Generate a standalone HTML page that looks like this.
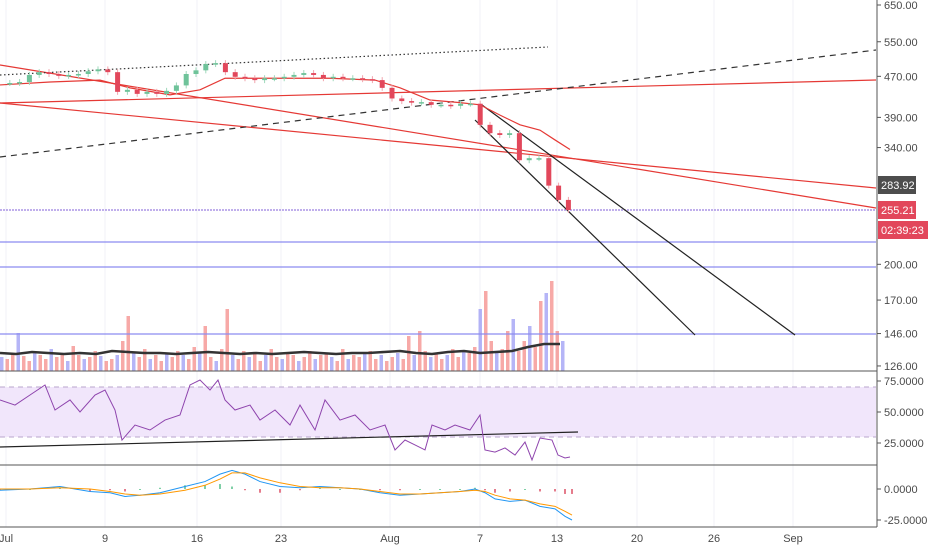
<!DOCTYPE html>
<html><head><meta charset="utf-8"><style>
body{margin:0;background:#fff;font-family:"Liberation Sans",sans-serif}
svg text{font-family:"Liberation Sans",sans-serif}
</style></head><body>
<svg id="c" width="932" height="550" xmlns="http://www.w3.org/2000/svg">
<rect width="932" height="550" fill="#fff"/>
<g id="grid"></g>
<rect x="0" y="387" width="876" height="50" fill="#f1e6fb"/>
<line x1="0" y1="387" x2="876" y2="387" stroke="#b9a6cc" stroke-dasharray="5,4"/>
<line x1="0" y1="437" x2="876" y2="437" stroke="#b9a6cc" stroke-dasharray="5,4"/>
<g id="vol"></g><g id="lines"></g><g id="candles"></g><g id="ind"></g>
<line x1="0" y1="371" x2="877" y2="371" stroke="#555"/>
<line x1="0" y1="465" x2="877" y2="465" stroke="#555"/>
<line x1="877" y1="0" x2="877" y2="527" stroke="#555"/>
<line x1="0" y1="527" x2="877" y2="527" stroke="#555"/>
<g id="axis" font-size="11" fill="#4a4a4a"></g>
<rect x="878" y="176" width="38" height="18" fill="#4d4d4d"/>
<text x="881" y="189" font-size="11" fill="#fff">283.92</text>
<rect x="878" y="201" width="38" height="18" fill="#e2475b"/>
<text x="881" y="214" font-size="11" fill="#fff">255.21</text>
<rect x="878" y="221" width="50" height="18" fill="#e2475b"/>
<text x="881" y="234" font-size="11" fill="#fff">02:39:23</text>
</svg>
<script>
const priceTicks=[650,550,470,390,340,200,170,146,126];
const rsiTicks=["75.0000","50.0000","25.0000"];
const macdTicks=["0.0000","-25.0000"];
const dateLabels=["Jul","9","16","23","Aug","7","13","20","26","Sep"];
const dateX=[6,105,197,281,390,480,557,637,714,793];
const closes=[456,456,458,473,479,475,471,473,475,481,485,479,438,442,434,438,434,440,451,475,483,497,499,479,469,466,462,466,466,469,473,477,473,466,469,466,466,464,462,446,425,420,417,418,413,413,411,415,415,377,363,360,363,321,324,324,286,268,256];
const maVals=[452,458,462,446,432,442,466,466,466,462,446,422,417,413,394,377,368,352,337];
const maX=[0,50,100,130,170,200,225,260,330,375,400,430,460,480,500,520,540,555,570];
const volumes=[14,12,18,38,15,10,20,16,12,22,14,18,10,25,16,12,14,20,15,10,12,16,30,55,18,14,22,12,16,10,18,14,20,16,12,24,18,45,14,10,22,62,16,12,20,14,18,10,16,22,14,12,18,16,10,14,20,12,16,18,14,10,22,12,16,14,18,20,12,16,10,14,18,12,35,16,40,20,14,18,12,16,22,14,20,18,24,62,80,30,18,22,40,52,20,30,45,24,70,78,90,40,30];
const volMA=[18,17,19,18,17,18,17,20,19,18,18,17,18,19,18,17,18,17,18,19,18,17,18,18,19,20,18,17,19,20,18,19,20,24,27,27];
const rsiVals=[59.7,55.6,63.7,71.8,51.6,59.7,50,63.7,67.7,51.6,27.4,39.5,35.5,43.5,47.6,71.8,75.8,67.7,75.8,59.7,51.6,55.6,43.5,51.6,39.5,55.6,35.5,59.7,43.5,47.6,35.5,39.5,19.4,27.4,23.4,19.4,39.5,35.5,39.5,35.5,47.6,19.4,17.7,21,15.3,25.8,11.3,29,27.4,15.3,12.9,13.7];
const rsiX=[0,15,30,45,55,70,80,95,105,115,122,135,150,165,180,190,200,210,218,225,235,250,260,275,290,300,315,325,340,355,370,385,395,405,415,425,432,445,455,470,480,485,495,505,515,525,532,540,552,558,565,570];
const macdVals=[-1,0,2,-2,-3,-6,-5,-3,2,6,12,15,12,6,2,1,2,1,0,-3,-5,-4,-3,-2,0,-3,-8,-10,-9,-14,-16,-22,-25];
const signalVals=[0,0,1,0,-2,-4,-5,-4,-1,3,8,13,13,9,5,2,1,1,0,-2,-4,-4,-3,-2,-1,-2,-5,-8,-9,-12,-14,-18,-21];
const macdX=[0,30,60,90,110,125,140,160,185,205,220,232,245,260,280,300,320,340,360,380,400,420,440,460,475,485,495,510,525,540,555,565,572];
const NS="http://www.w3.org/2000/svg";
const py=v=>5+(Math.log(650)-Math.log(v))*220;
const ry=v=>412-(v-50)*1.24;
const my=v=>489-v*1.24;
function mk(tag,at,parent){const e=document.createElementNS(NS,tag);for(const k in at)e.setAttribute(k,at[k]);document.getElementById(parent).appendChild(e);return e;}
dateX.forEach(x=>{const l=mk('line',{x1:x,y1:0,x2:x,y2:527,stroke:'#f0f2f7'},'grid');

});
priceTicks.forEach(v=>{const y=py(v);mk('line',{x1:877,y1:y,x2:881,y2:y,stroke:'#555'},'axis');
const t=mk('text',{x:884,y:y+4},'axis');t.textContent=v.toFixed(2);

});
[75,50,25].forEach((v,i)=>{const y=ry(v);mk('line',{x1:877,y1:y,x2:881,y2:y,stroke:'#555'},'axis');
const t=mk('text',{x:884,y:y+4},'axis');t.textContent=rsiTicks[i];

});
[0,-25].forEach((v,i)=>{const y=my(v);mk('line',{x1:877,y1:y,x2:881,y2:y,stroke:'#555'},'axis');
const t=mk('text',{x:884,y:y+4},'axis');t.textContent=macdTicks[i];

});
dateLabels.forEach((d,i)=>{const t=mk('text',{x:dateX[i],y:542,'text-anchor':'middle'},'axis');t.textContent=d;

});
volumes.forEach((v,i)=>{const x=i*5.5;const r=mk('rect',{x:x,y:371-v,width:3.5,height:v,fill:i%3==0?'rgba(120,120,240,0.55)':'rgba(239,83,80,0.5)'},'vol');

});
const vp=mk('polyline',{points:volMA.map((v,i)=>[i*16,371-v].join(',')).join(' '),fill:'none',stroke:'#333','stroke-width':2.5},'vol');


[[210,'#9a7fe0','2,1'],[242,'#8c8cf0',''],[267,'#8c8cf0',''],[334,'#8c8cf0','']].forEach(h=>{const l=mk('line',{x1:0,y1:h[0],x2:876,y2:h[0],stroke:h[1],'stroke-width':1.2,'stroke-dasharray':h[2]},'lines');

});
[[0,103,876,80,'#e53935',''],[0,103,876,188,'#e53935',''],[0,65,876,208,'#e53935',''],[0,157,876,50,'#333','6,5'],[0,75,548,47,'#333','1.5,2.5'],[482,105,795,335,'#222',''],[475,120,695,335,'#222',''],[0,447,578,432,'#222','']].forEach(t=>{const l=mk('line',{x1:t[0],y1:t[1],x2:t[2],y2:t[3],stroke:t[4],'stroke-width':1.2,'stroke-dasharray':t[5]},'lines');

});
const ma=mk('polyline',{points:maVals.map((v,i)=>[maX[i],py(v)].join(',')).join(' '),fill:'none',stroke:'#e53935','stroke-width':1.2},'lines');


closes.forEach((c,i)=>{if(!i)return;const o=closes[i-1];const x=i*9.8;const up=c>=o;const col=up?'#6fc39a':'#e2475b';
const y1=py(Math.max(o,c)),y2=py(Math.min(o,c));
const w=mk('line',{x1:x,y1:y1-3,x2:x,y2:y2+3,stroke:up?'#9fd9bb':'#f1a4ad'},'candles');


const b=mk('rect',{x:x-2.5,y:y1,width:5,height:Math.max(1.5,y2-y1),fill:col},'candles');

});
const rp=mk('polyline',{points:rsiVals.map((v,i)=>[rsiX[i],ry(v)].join(',')).join(' '),fill:'none',stroke:'#8e44ad','stroke-width':1},'ind');


macdVals.forEach((v,i)=>{const h=(v-signalVals[i])*1.24;const r=mk('rect',{x:macdX[i]-1,y:Math.min(my(0),my(0)-h),width:2,height:Math.max(1,Math.abs(h)),fill:h>=0?'#7fcfa6':'#e57c8c'},'ind');

});
const m1=mk('polyline',{points:macdVals.map((v,i)=>[macdX[i],my(v)].join(',')).join(' '),fill:'none',stroke:'#2196f3','stroke-width':1},'ind');


const m2=mk('polyline',{points:signalVals.map((v,i)=>[macdX[i],my(v)].join(',')).join(' '),fill:'none',stroke:'#ff9800','stroke-width':1},'ind');


</script>
</body></html>
